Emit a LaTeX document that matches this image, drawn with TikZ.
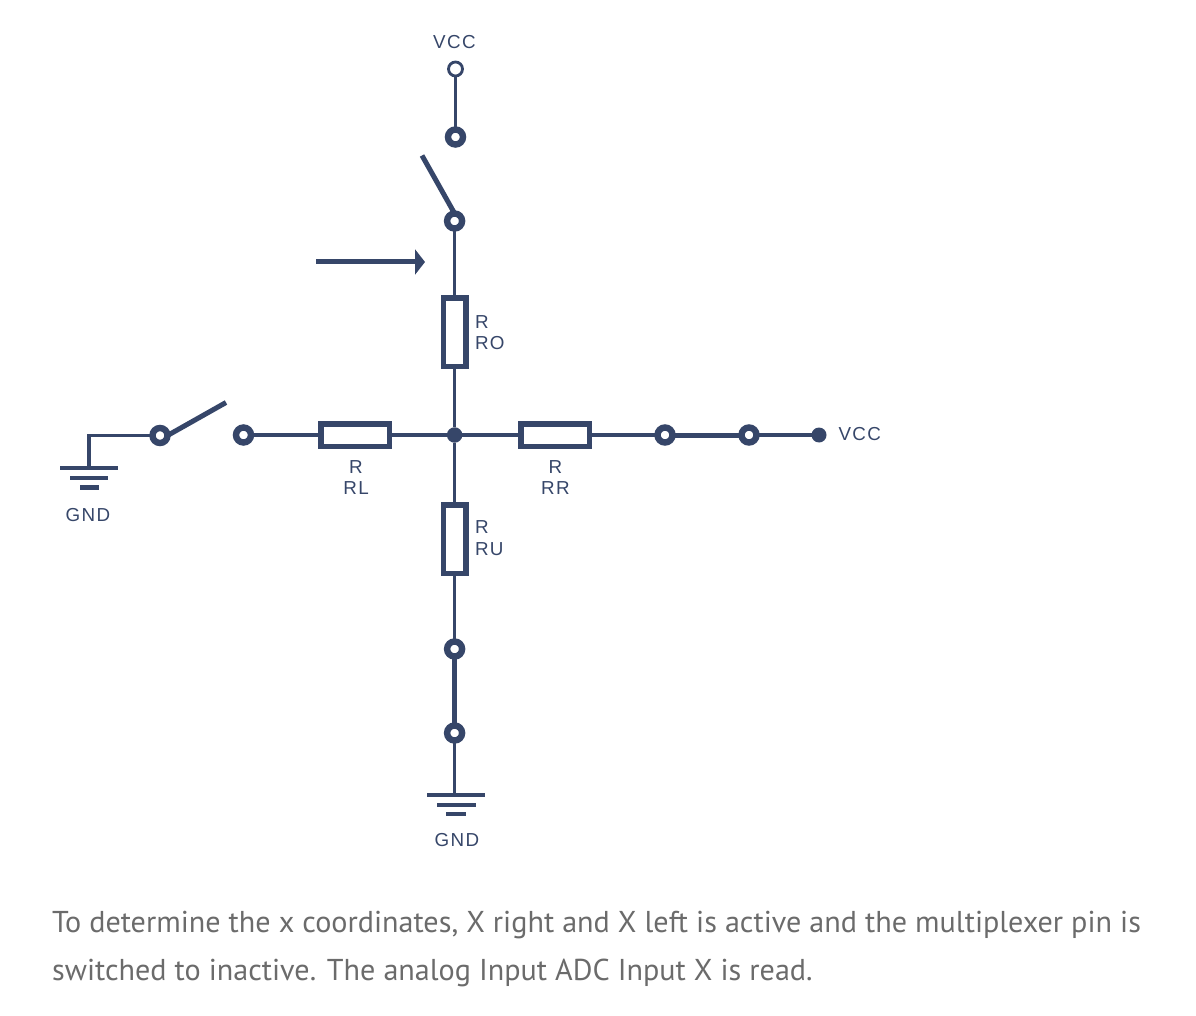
\documentclass[tikz,border=0pt]{standalone}
\usepackage{fontspec}
\setmainfont{Liberation Sans}
\newfontfamily\capfont{PT Sans}
\usetikzlibrary{arrows.meta}
\definecolor{navy}{HTML}{364669}
\definecolor{capgray}{HTML}{6B6B6B}
\tikzset{
  wire/.style={draw=navy,line width=3.2pt},
  thickwire/.style={draw=navy,line width=5pt},
  ring/.style={circle,draw=navy,fill=white,line width=6.4pt,minimum size=15pt,inner sep=0pt,outer sep=0pt},
  openpin/.style={circle,draw=navy,fill=white,line width=2.8pt,minimum size=14pt,inner sep=0pt,outer sep=0pt},
  dot/.style={circle,fill=navy,minimum size=15.5pt,inner sep=0pt,outer sep=0pt},
  reshoriz/.style={rectangle,draw=navy,fill=white,line width=5.5pt,minimum width=68.5pt,minimum height=22.5pt,inner sep=0pt,outer sep=0pt},
  resvert/.style={rectangle,draw=navy,fill=white,line width=5.5pt,minimum width=22.5pt,minimum height=68.5pt,inner sep=0pt,outer sep=0pt},
  bar/.style={draw=navy,line width=4.5pt},
  lbl/.style={text=navy,font=\fontsize{18.8}{21.5}\selectfont\addfontfeatures{LetterSpace=7.5},inner sep=0pt,outer sep=0pt},
  caption/.style={text=capgray,font=\capfont\fontsize{30.15}{36}\selectfont,inner sep=0pt,anchor=base west}
}
\begin{document}
\begin{tikzpicture}[x=1pt,y=-1pt]
\useasboundingbox (0,0) rectangle (1196,1016);
\coordinate (corner) at (89,435.5);
\coordinate (gl0) at (89,468);
\coordinate (gb0) at (454.6,795);
\coordinate (armtop) at (422,155.5);
\coordinate (armleft) at (226,402.5);
\coordinate (arrowa) at (316,262);
\coordinate (arrowb) at (425,262);
\coordinate (gl1a) at (60,468); \coordinate (gl1b) at (118,468);
\coordinate (gl2a) at (70,478); \coordinate (gl2b) at (108,478);
\coordinate (gl3a) at (80,487.5); \coordinate (gl3b) at (99,487.5);
\coordinate (gb1a) at (427,795); \coordinate (gb1b) at (485,795);
\coordinate (gb2a) at (437,805); \coordinate (gb2b) at (476,805);
\coordinate (gb3a) at (446,814); \coordinate (gb3b) at (466,814);

\node[openpin] (vcctop) at (455.5,69) {};
\node[ring] (p1) at (455.5,137) {};
\node[ring] (p2) at (454.6,221) {};
\node[resvert] (ro) at (454.6,332) {};
\node[reshoriz] (rl) at (355,435) {};
\node[reshoriz] (rr) at (555,435) {};
\node[resvert] (ru) at (454.6,539) {};
\node[dot] (j) at (454.6,435) {};
\node[ring] (l1) at (160,435.5) {};
\node[ring] (l2) at (243.5,435) {};
\node[ring] (r1) at (665,435) {};
\node[ring] (r2) at (749,435) {};
\node[dot,minimum size=15pt] (vccdot) at (819,435) {};
\node[ring] (b1) at (454.6,649) {};
\node[ring] (b2) at (454.6,733) {};

\draw[wire] (vcctop) -- (p1);
\draw[wire] (p2) -- (ro);
\draw[wire] (ro) -- (j);
\draw[wire] (j) -- (ru);
\draw[wire] (ru) -- (b1);
\draw[wire] (rl) -- (j);
\draw[wire] (j) -- (rr);
\draw[wire] (rr) -- (r1);
\draw[wire] (r2) -- (vccdot);
\draw[wire] (l2) -- (rl);
\draw[wire] (l1) -- (corner) -- (gl0);
\draw[wire] (b2) -- (gb0);
\draw[thickwire] (r1) -- (r2);
\draw[thickwire] (b1) -- (b2);
\draw[thickwire] (p2.north) -- (armtop);
\draw[thickwire] (l1.east) -- (armleft);
\draw[draw=navy,line width=5pt,-{Triangle[length=10pt,width=25pt]}] (arrowa) -- (arrowb);
\draw[bar] (gl1a) -- (gl1b);
\draw[bar] (gl2a) -- (gl2b);
\draw[bar] (gl3a) -- (gl3b);
\draw[bar] (gb1a) -- (gb1b);
\draw[bar] (gb2a) -- (gb2b);
\draw[bar] (gb3a) -- (gb3b);

\node[lbl] (tvcc) at (454.5,42) {VCC};
\node[lbl,anchor=west] (tvcc2) at (838.5,434) {VCC};
\node[lbl] (tgndl) at (88,515) {GND};
\node[lbl] (tgndb) at (457,840.5) {GND};
\node[lbl,align=left,anchor=west] (tro) at (475,332.5) {R\\RO};
\node[lbl,align=left,anchor=west] (tru) at (475,538) {R\\RU};
\node[lbl,align=center] (trl) at (356,477.5) {R\\RL};
\node[lbl,align=center] (trr) at (555.5,477.5) {R\\RR};

\node[caption] (c1) at (52,932.5) {To determine the x coordinates, X right and X left is active and the multiplexer pin is};
\node[caption] (c2) at (52,980.5) {switched to inactive. The analog Input ADC Input X is read.};
\end{tikzpicture}
\end{document}
